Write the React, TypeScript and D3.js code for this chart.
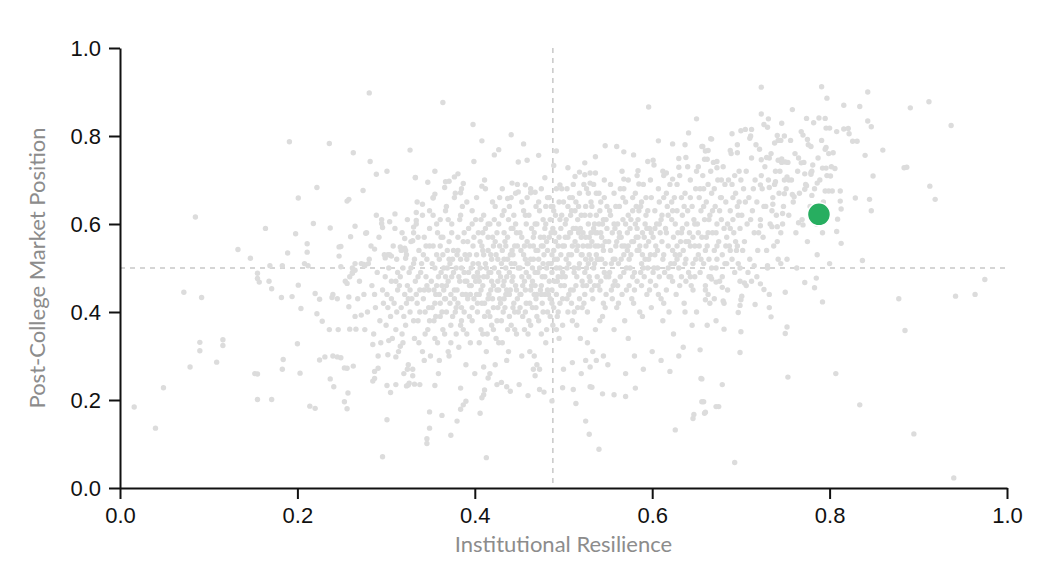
import React, { useEffect, useRef } from 'react';
import * as d3 from 'd3';

type Pt = [number, number];

const xTicks = [0, 0.2, 0.4, 0.6, 0.8, 1.0];
const yTicks = [0, 0.2, 0.4, 0.6, 0.8, 1.0];
const xTitle = 'Institutional Resilience';
const yTitle = 'Post-College Market Position';
const medianX = 0.488;
const medianY = 0.5;
const highlight: Pt = [0.788, 0.622];

// sparse points on the left side of the cloud
const leftSparse: Pt[] = [
  [.016,.184],[.040,.136],[.049,.228],[.072,.445],[.092,.433],[.079,.275],[.090,.331],[.090,.312],[.116,.337],[.116,.324],
  [.109,.286],[.085,.616],[.133,.542],[.147,.522],[.155,.488],[.155,.476],[.157,.468],[.168,.470],[.171,.453],[.152,.260],
  [.155,.259],[.155,.201],[.171,.201],[.184,.292],[.183,.270],[.182,.433],[.194,.435],[.201,.461],[.204,.408],[.200,.328],
  [.203,.261],[.214,.186],[.220,.181],[.220,.442],[.225,.429],[.222,.396],[.228,.379],[.239,.433],[.236,.360],[.246,.360],
  [.225,.291],[.231,.298],[.240,.300],[.245,.298],[.249,.296],[.237,.248],[.241,.230],[.253,.273],[.256,.272],[.263,.277],
  [.257,.216],[.253,.196],[.256,.180],[.258,.434],[.258,.412],[.259,.361],[.266,.361],[.272,.393],[.285,.326],[.285,.243],
  [.287,.249],[.287,.265],[.291,.272],[.296,.071],[.301,.155],[.301,.233],[.305,.217],[.311,.235],[.302,.303],[.311,.298],
  [.316,.322],[.303,.335],[.323,.232],[.325,.234],[.332,.236],
  [.281,.898],[.191,.787],[.236,.783],[.263,.762],[.282,.742],[.289,.713],[.301,.720],[.327,.768],[.333,.706],[.222,.683],
  [.201,.659],[.274,.676],[.256,.652],[.258,.656],[.164,.590],[.218,.601],[.198,.578],[.237,.591],[.265,.595],[.277,.579],
  [.260,.571],[.295,.601],[.296,.592],[.304,.605],[.310,.623],[.334,.626],[.334,.608],[.331,.593],[.330,.562],[.321,.567],
  [.211,.555],[.211,.536],[.189,.534],[.247,.548],[.249,.549],[.247,.527],[.287,.543],[.316,.548],[.321,.545],[.322,.540],
  [.302,.530],[.299,.523],[.306,.527],[.322,.522],[.183,.505],[.208,.510],[.249,.503],[.265,.510],[.275,.508],[.254,.470],
  [.256,.465],[.262,.490],[.265,.495],[.276,.505],[.280,.510],[.169,.505],[.212,.505],[.240,.440],[.245,.430],[.259,.480],
  [.262,.488],
];

// cloud from x 0.25 to 0.35
const band25: Pt[] = [
  [.262,.50],[.270,.47],[.275,.44],[.281,.52],[.284,.46],[.288,.41],[.290,.49],[.293,.38],[.296,.45],[.298,.53],
  [.279,.40],[.286,.35],[.292,.57],[.297,.42],[.268,.43],[.283,.55],[.289,.62],[.276,.36],[.294,.33],[.299,.48],
  [.272,.51],[.287,.44],[.265,.39],[.291,.30],[.278,.58],[.295,.61],
  [.301,.44],[.303,.50],[.305,.39],[.306,.47],[.308,.55],[.309,.42],[.311,.36],[.312,.52],[.313,.45],[.314,.31],
  [.316,.48],[.317,.41],[.318,.58],[.319,.50],[.321,.44],[.322,.37],[.323,.53],[.324,.46],[.325,.28],[.326,.49],
  [.327,.40],[.328,.56],[.329,.43],[.331,.51],[.332,.34],[.333,.47],[.334,.60],[.335,.42],[.336,.38],[.337,.54],
  [.338,.45],[.339,.49],[.341,.31],[.342,.43],[.343,.57],[.344,.40],[.345,.48],[.346,.52],[.347,.36],[.348,.45],
  [.349,.63],[.302,.41],[.307,.34],[.310,.59],[.315,.46],[.320,.39],[.324,.61],[.330,.27],[.334,.44],[.340,.51],
  [.344,.35],[.348,.41],[.304,.53],[.313,.49],[.327,.45],[.336,.48],[.342,.53],[.319,.33],[.331,.58],[.346,.46],
  [.306,.43],[.338,.40],[.323,.42],[.311,.47],[.349,.55],[.300,.37],[.317,.54],[.335,.65],[.343,.29],[.328,.50],
];

// cloud from x 0.35 to 0.45
const band35: Pt[] = [
  [.351,.47],[.352,.41],[.353,.55],[.354,.38],[.355,.50],[.356,.44],[.357,.60],[.358,.33],[.359,.48],[.360,.52],
  [.361,.42],[.362,.57],[.363,.46],[.364,.36],[.365,.50],[.366,.43],[.367,.63],[.368,.40],[.369,.54],[.370,.47],
  [.371,.30],[.372,.51],[.373,.44],[.374,.58],[.375,.39],[.376,.49],[.377,.45],[.378,.67],[.379,.35],[.380,.53],
  [.381,.42],[.382,.48],[.383,.61],[.384,.37],[.385,.50],[.386,.44],[.387,.56],[.388,.40],[.389,.47],[.390,.28],
  [.391,.52],[.392,.43],[.393,.59],[.394,.46],[.395,.33],[.396,.50],[.397,.41],[.398,.55],[.399,.48],[.352,.51],
  [.354,.45],[.356,.39],[.358,.58],[.360,.44],[.362,.49],[.364,.53],[.366,.35],[.368,.46],[.370,.61],[.372,.42],
  [.374,.48],[.376,.54],[.378,.40],[.380,.45],[.382,.32],[.384,.52],[.386,.64],[.388,.49],[.390,.44],[.392,.56],
  [.394,.39],[.396,.46],[.398,.51],[.355,.42],[.361,.55],[.367,.48],[.373,.37],[.379,.50],[.385,.41],[.391,.47],
  [.397,.60],[.359,.26],[.365,.45],[.371,.56],[.377,.43],[.383,.47],[.389,.53],[.395,.44],[.353,.62],[.363,.40],
  [.375,.52],[.387,.36],[.399,.43],[.369,.50],[.381,.57],[.393,.49],[.357,.46],[.385,.68],
  [.401,.47],[.402,.53],[.403,.40],[.404,.58],[.405,.44],[.406,.50],[.407,.36],[.408,.55],[.409,.46],[.410,.62],
  [.411,.42],[.412,.51],[.413,.31],[.414,.48],[.415,.57],[.416,.44],[.417,.39],[.418,.53],[.419,.47],[.420,.65],
  [.421,.41],[.422,.50],[.423,.56],[.424,.34],[.425,.45],[.426,.52],[.427,.60],[.428,.43],[.429,.48],[.430,.38],
  [.431,.54],[.432,.46],[.433,.63],[.434,.41],[.435,.50],[.436,.29],[.437,.57],[.438,.44],[.439,.49],[.440,.53],
  [.441,.37],[.442,.47],[.443,.59],[.444,.42],[.445,.51],[.446,.67],[.447,.45],[.448,.55],[.449,.40],[.401,.61],
  [.403,.49],[.405,.33],[.407,.45],[.409,.54],[.411,.39],[.413,.50],[.415,.43],[.417,.60],[.419,.52],[.421,.46],
  [.423,.28],[.425,.58],[.427,.49],[.429,.42],[.431,.62],[.433,.47],[.435,.55],[.437,.36],[.439,.44],[.441,.51],
  [.443,.48],[.445,.40],[.447,.58],[.449,.50],[.402,.44],[.406,.56],[.410,.48],[.414,.35],[.418,.45],[.422,.61],
  [.426,.41],[.430,.51],[.434,.56],[.438,.31],[.442,.54],[.446,.46],[.404,.51],[.408,.42],[.412,.59],[.416,.49],
  [.420,.43],[.424,.53],[.428,.66],[.432,.40],[.436,.48],[.440,.45],[.444,.62],[.448,.43],[.405,.47],[.415,.54],
  [.425,.38],[.435,.44],[.445,.55],[.411,.70],[.421,.55],[.431,.33],[.441,.59],[.417,.26],[.427,.45],[.437,.52],
  [.447,.35],[.433,.52],[.419,.37],[.443,.41],[.409,.58],[.439,.64],
];

// cloud from x 0.45 to 0.55
const band45: Pt[] = [
  [.451,.50],[.452,.44],[.453,.57],[.454,.39],[.455,.53],[.456,.47],[.457,.62],[.458,.42],[.459,.51],[.460,.35],
  [.461,.48],[.462,.55],[.463,.45],[.464,.59],[.465,.41],[.466,.52],[.467,.30],[.468,.49],[.469,.64],[.470,.44],
  [.471,.54],[.472,.38],[.473,.50],[.474,.57],[.475,.46],[.476,.42],[.477,.61],[.478,.53],[.479,.48],[.480,.33],
  [.481,.56],[.482,.45],[.483,.51],[.484,.66],[.485,.43],[.486,.58],[.487,.49],[.488,.37],[.489,.54],[.490,.47],
  [.491,.62],[.492,.44],[.493,.52],[.494,.40],[.495,.57],[.496,.50],[.497,.46],[.498,.68],[.499,.55],[.451,.41],
  [.453,.48],[.455,.63],[.457,.45],[.459,.56],[.461,.38],[.463,.52],[.465,.47],[.467,.58],[.469,.43],[.471,.49],
  [.473,.27],[.475,.55],[.477,.40],[.479,.59],[.481,.50],[.483,.44],[.485,.61],[.487,.53],[.489,.41],[.491,.56],
  [.493,.47],[.495,.34],[.497,.59],[.499,.43],[.452,.54],[.456,.36],[.460,.51],[.464,.46],[.468,.60],[.472,.52],
  [.476,.48],[.480,.64],[.484,.47],[.488,.59],[.492,.50],[.496,.42],[.454,.46],[.458,.60],[.462,.42],[.466,.55],
  [.470,.39],[.474,.45],[.478,.57],[.482,.40],[.486,.64],[.490,.52],[.494,.48],[.498,.62],[.457,.52],[.467,.44],
  [.477,.51],[.487,.45],[.497,.53],[.462,.31],[.472,.65],[.482,.54],[.492,.36],[.459,.66],[.469,.54],[.479,.44],
  [.489,.63],[.499,.49],[.485,.39],[.475,.35],[.453,.30],[.495,.65],[.465,.50],
  [.501,.55],[.502,.48],[.503,.61],[.504,.43],[.505,.57],[.506,.51],[.507,.66],[.508,.45],[.509,.53],[.510,.38],
  [.511,.59],[.512,.49],[.513,.63],[.514,.46],[.515,.54],[.516,.41],[.517,.58],[.518,.51],[.519,.34],[.520,.62],
  [.521,.47],[.522,.55],[.523,.69],[.524,.44],[.525,.57],[.526,.50],[.527,.40],[.528,.60],[.529,.53],[.530,.47],
  [.531,.65],[.532,.56],[.533,.43],[.534,.59],[.535,.51],[.536,.36],[.537,.62],[.538,.48],[.539,.55],[.540,.67],
  [.541,.45],[.542,.58],[.543,.52],[.544,.39],[.545,.61],[.546,.49],[.547,.56],[.548,.44],[.549,.64],[.501,.46],
  [.503,.52],[.505,.40],[.507,.58],[.509,.63],[.511,.45],[.513,.56],[.515,.37],[.517,.50],[.519,.59],[.521,.53],
  [.523,.42],[.525,.64],[.527,.55],[.529,.48],[.531,.58],[.533,.31],[.535,.60],[.537,.53],[.539,.46],[.541,.63],
  [.543,.57],[.545,.42],[.547,.51],[.549,.59],[.502,.60],[.506,.44],[.510,.55],[.514,.65],[.518,.43],[.522,.58],
  [.526,.46],[.530,.62],[.534,.50],[.538,.58],[.542,.47],[.546,.66],[.504,.50],[.508,.58],[.512,.40],[.516,.61],
  [.520,.53],[.524,.49],[.528,.67],[.532,.45],[.536,.55],[.540,.52],[.544,.60],[.548,.48],[.505,.64],[.515,.48],
  [.525,.52],[.535,.46],[.545,.54],[.511,.69],[.521,.41],[.531,.52],[.541,.38],[.517,.64],[.527,.33],[.537,.67],
  [.547,.41],[.509,.42],[.529,.57],
];

// cloud from x 0.55 to 0.65
const band55: Pt[] = [
  [.551,.56],[.552,.49],[.553,.62],[.554,.45],[.555,.58],[.556,.52],[.557,.67],[.558,.47],[.559,.55],[.560,.41],
  [.561,.60],[.562,.51],[.563,.64],[.564,.48],[.565,.57],[.566,.44],[.567,.61],[.568,.53],[.569,.38],[.570,.65],
  [.571,.50],[.572,.58],[.573,.70],[.574,.46],[.575,.59],[.576,.53],[.577,.43],[.578,.63],[.579,.56],[.580,.49],
  [.581,.67],[.582,.57],[.583,.47],[.584,.61],[.585,.54],[.586,.40],[.587,.64],[.588,.51],[.589,.58],[.590,.69],
  [.591,.48],[.592,.60],[.593,.55],[.594,.44],[.595,.63],[.596,.52],[.597,.59],[.598,.47],[.599,.66],[.551,.48],
  [.553,.54],[.555,.43],[.557,.60],[.559,.64],[.561,.46],[.563,.57],[.565,.52],[.567,.66],[.569,.55],[.571,.45],
  [.573,.62],[.575,.50],[.577,.56],[.579,.42],[.581,.60],[.583,.54],[.585,.63],[.587,.49],[.589,.53],[.591,.57],
  [.593,.66],[.595,.50],[.597,.45],[.599,.58],[.552,.63],[.556,.46],[.560,.56],[.564,.68],[.568,.49],[.572,.54],
  [.576,.61],[.580,.45],[.584,.57],[.588,.65],[.592,.52],[.596,.56],[.554,.51],[.558,.59],[.562,.42],[.566,.55],
  [.570,.60],[.574,.52],[.578,.48],[.582,.64],[.586,.55],[.590,.50],[.594,.59],[.598,.53],[.557,.36],[.573,.34],
  [.589,.39],[.566,.72],[.583,.71],[.599,.41],
  [.601,.57],[.602,.50],[.603,.63],[.604,.46],[.605,.60],[.606,.54],[.607,.68],[.608,.48],[.609,.58],[.610,.43],
  [.611,.62],[.612,.52],[.613,.66],[.614,.49],[.615,.59],[.616,.45],[.617,.64],[.618,.55],[.619,.40],[.620,.69],
  [.621,.51],[.622,.61],[.623,.47],[.624,.57],[.625,.66],[.626,.53],[.627,.44],[.628,.63],[.629,.58],[.630,.50],
  [.631,.71],[.632,.56],[.633,.48],[.634,.62],[.635,.54],[.636,.42],[.637,.67],[.638,.52],[.639,.60],[.640,.73],
  [.641,.49],[.642,.58],[.643,.55],[.644,.46],[.645,.64],[.646,.51],[.647,.61],[.648,.48],[.649,.68],[.601,.49],
  [.604,.55],[.607,.44],[.610,.61],[.613,.53],[.616,.58],[.619,.48],[.622,.65],[.625,.51],[.628,.55],[.631,.46],
  [.634,.59],[.637,.51],[.640,.63],[.643,.48],[.646,.57],[.649,.52],[.603,.59],[.608,.65],[.613,.42],[.618,.62],
  [.623,.54],[.628,.69],[.633,.58],[.638,.47],[.643,.66],[.648,.55],[.606,.50],[.611,.56],[.616,.67],[.621,.48],
  [.626,.60],[.631,.53],[.636,.64],[.641,.56],[.646,.45],[.612,.38],[.624,.35],[.637,.40],
];

// cloud from x 0.65 to 0.80
const band65: Pt[] = [
  [.651,.60],[.652,.53],[.653,.66],[.654,.49],[.655,.63],[.656,.57],[.657,.71],[.658,.51],[.659,.61],[.660,.46],
  [.661,.65],[.662,.55],[.663,.69],[.664,.52],[.665,.62],[.666,.48],[.667,.67],[.668,.58],[.669,.74],[.670,.54],
  [.671,.64],[.672,.50],[.673,.60],[.674,.70],[.675,.56],[.676,.47],[.677,.66],[.678,.61],[.679,.53],[.680,.73],
  [.681,.59],[.682,.51],[.683,.65],[.684,.57],[.685,.45],[.686,.70],[.687,.55],[.688,.63],[.689,.76],[.690,.52],
  [.691,.61],[.692,.58],[.693,.49],[.694,.67],[.695,.54],[.696,.64],[.697,.51],[.698,.72],[.699,.59],[.652,.58],
  [.655,.52],[.658,.64],[.661,.57],[.664,.61],[.667,.50],[.670,.68],[.673,.55],[.676,.63],[.679,.48],[.682,.69],
  [.685,.60],[.688,.54],[.691,.66],[.694,.56],[.697,.62],[.654,.68],[.660,.54],[.666,.72],[.672,.58],[.678,.66],
  [.684,.51],[.690,.69],[.696,.55],[.663,.44],[.681,.42],[.699,.47],
  [.701,.62],[.703,.68],[.704,.56],[.706,.72],[.707,.60],[.709,.66],[.710,.52],[.712,.75],[.713,.63],[.715,.58],
  [.716,.70],[.718,.65],[.719,.54],[.721,.77],[.722,.61],[.724,.68],[.725,.57],[.727,.73],[.728,.64],[.730,.50],
  [.731,.70],[.733,.60],[.734,.76],[.736,.66],[.737,.55],[.739,.72],[.740,.62],[.742,.79],[.743,.67],[.745,.58],
  [.746,.74],[.748,.64],[.749,.70],[.702,.54],[.705,.65],[.708,.49],[.711,.61],[.714,.68],[.717,.78],[.720,.58],
  [.723,.71],[.726,.64],[.729,.54],[.732,.75],[.735,.63],[.738,.69],[.741,.56],[.744,.72],[.747,.60],[.700,.70],
  [.706,.46],[.718,.48],[.730,.82],[.742,.52],[.711,.80],
  [.751,.68],[.753,.74],[.754,.62],[.756,.79],[.757,.70],[.759,.65],[.761,.76],[.762,.58],[.764,.72],[.766,.67],
  [.768,.81],[.769,.61],[.771,.74],[.773,.69],[.775,.56],[.776,.78],[.778,.64],[.780,.72],[.782,.83],[.783,.68],
  [.785,.60],[.787,.75],[.789,.70],[.791,.79],[.793,.65],[.795,.84],[.797,.71],[.799,.76],[.752,.52],[.763,.50],
  [.774,.84],[.786,.53],[.758,.86],[.792,.58],
];

// extra points where the cloud is densest
const coreExtra: Pt[] = [
  [.332,.52],[.336,.57],[.341,.62],[.345,.55],[.349,.59],[.353,.66],[.357,.53],[.361,.61],[.364,.57],[.368,.64],
  [.371,.52],[.374,.60],[.377,.66],[.381,.54],[.384,.62],[.388,.58],[.391,.65],[.394,.53],[.397,.63],[.399,.57],
  [.402,.66],[.404,.48],[.407,.61],[.410,.53],[.412,.68],[.415,.60],[.418,.49],[.420,.57],[.423,.64],[.426,.47],
  [.428,.55],[.431,.68],[.433,.58],[.436,.45],[.438,.61],[.441,.66],[.443,.53],[.446,.60],[.448,.69],[.451,.58],
  [.453,.65],[.456,.55],[.458,.49],[.461,.62],[.463,.68],[.466,.57],[.468,.46],[.470,.60],
  [.473,.63],[.475,.68],[.477,.55],[.480,.60],[.482,.66],[.484,.57],[.486,.51],[.488,.64],[.490,.58],[.492,.68],
  [.494,.55],[.496,.61],[.498,.48],[.500,.65],[.502,.57],[.504,.68],[.506,.53],[.508,.62],[.510,.66],[.512,.50],
  [.514,.59],[.516,.55],[.518,.67],[.520,.57],[.522,.46],[.524,.62],[.526,.68],[.528,.51],[.530,.55],[.532,.64],
  [.534,.69],[.536,.58],[.538,.52],[.540,.60],[.542,.65],[.544,.55],[.546,.70],[.548,.61],
  [.312,.40],[.318,.35],[.325,.43],[.331,.38],[.337,.33],[.343,.45],[.349,.38],[.355,.34],[.361,.39],[.367,.43],
  [.373,.33],[.379,.41],[.385,.38],[.391,.35],[.397,.38],[.403,.42],[.409,.35],[.415,.40],[.421,.36],[.427,.33],
  [.433,.43],[.439,.39],[.445,.36],[.451,.44],[.457,.40],[.463,.37],[.469,.41],[.475,.44],[.481,.36],[.487,.42],
  [.493,.39],[.499,.37],
  [.553,.69],[.558,.52],[.563,.58],[.568,.68],[.573,.55],[.578,.66],[.583,.59],[.588,.46],[.593,.62],[.598,.70],
  [.603,.53],[.608,.60],[.613,.71],[.618,.50],[.623,.63],[.628,.52],[.633,.66],[.638,.56],[.643,.70],[.648,.60],
  [.653,.55],[.658,.68],[.663,.58],[.668,.63],[.673,.52],[.678,.70],[.683,.55],[.688,.59],[.693,.71],[.698,.65],
];

// sparse points above the cloud
const topSparse: Pt[] = [
  [.364,.876],[.398,.826],[.408,.789],[.441,.803],[.455,.782],[.427,.769],[.422,.757],[.399,.742],[.449,.741],[.459,.745],
  [.472,.756],[.492,.766],[.489,.733],[.596,.866],[.650,.839],[.641,.807],[.666,.794],[.607,.789],[.623,.782],[.637,.780],
  [.547,.778],[.560,.776],[.568,.764],[.579,.757],[.536,.753],[.656,.776],[.660,.766],[.659,.747],[.595,.742],[.601,.745],
  [.602,.734],[.630,.749],[.638,.751],[.630,.729],[.524,.739],[.505,.728],[.408,.686],[.355,.720],[.333,.705],[.347,.695],
  [.381,.714],[.377,.707],[.367,.696],[.371,.697],[.366,.683],[.387,.692],[.384,.671],[.355,.668],[.353,.659],[.341,.645],
  [.442,.693],[.457,.689],[.479,.705],[.449,.673],[.463,.671],[.468,.672],[.437,.658],[.496,.689],[.513,.708],[.518,.718],
  [.524,.712],[.530,.716],[.530,.693],[.536,.716],[.568,.702],[.584,.721],[.585,.691],[.612,.720],[.616,.716],[.623,.702],
  [.650,.720],[.652,.730],[.673,.742],[.673,.728],
  [.723,.911],[.791,.912],[.843,.900],[.797,.886],[.816,.870],[.834,.867],[.891,.864],[.912,.878],[.937,.824],[.723,.850],
  [.726,.826],[.731,.839],[.746,.829],[.788,.841],[.843,.834],[.847,.821],[.796,.818],[.800,.818],[.808,.810],[.816,.816],
  [.821,.817],[.822,.805],[.826,.788],[.831,.788],[.860,.768],[.840,.756],[.884,.728],[.887,.729],[.913,.686],[.919,.656],
  [.849,.709],[.829,.659],[.845,.656],[.847,.630],[.813,.634],[.812,.652],[.812,.675],[.809,.611],[.808,.583],[.813,.556],
  [.837,.517],[.800,.510],[.795,.675],[.799,.675],[.803,.675],[.801,.709],[.796,.727],[.802,.730],[.806,.726],[.792,.727],
  [.786,.693],[.772,.714],[.779,.717],[.779,.713],[.781,.734],[.780,.665],[.772,.679],[.774,.687],[.779,.776],[.796,.774],
  [.795,.770],[.804,.762],[.770,.802],[.775,.792],[.765,.750],[.768,.739],[.765,.603],[.770,.598],[.747,.624],[.735,.594],
  [.741,.594],[.722,.596],[.736,.645],[.749,.669],[.758,.667],[.760,.662],[.752,.707],[.754,.700],[.739,.696],[.732,.683],
  [.722,.689],[.742,.745],[.746,.748],[.750,.741],[.723,.746],[.729,.751],[.741,.801],[.749,.800],[.745,.790],[.738,.784],
  [.696,.780],[.696,.762],[.688,.767],[.667,.793],[.657,.776],[.663,.767],[.662,.747],[.700,.812],[.712,.815],[.690,.805],
  [.710,.795],[.705,.815],
];

// sparse points to the right of the cloud
const rightSparse: Pt[] = [
  [.975,.474],[.942,.436],[.964,.440],[.878,.430],[.885,.358],[.807,.260],[.834,.189],[.895,.123],[.940,.023],[.693,.058],
  [.753,.252],[.750,.351],[.752,.366],[.792,.423],[.772,.467],[.783,.455],[.785,.477],[.750,.445],[.732,.440],[.732,.410],
  [.734,.389],[.726,.451],[.716,.417],[.704,.466],[.712,.470],[.722,.464],[.700,.355],[.699,.308],[.697,.399],[.699,.415],
  [.700,.428],[.701,.436],[.681,.361],[.662,.370],[.672,.380],[.679,.235],[.675,.185],[.658,.196],[.660,.172],[.656,.248],
  [.654,.314],[.680,.425],[.670,.430],[.665,.420],[.660,.428],[.667,.475],[.679,.456],[.672,.468],[.730,.505],[.745,.510],
  [.715,.505],[.699,.500],
];

// sparse points below the cloud
const bottomSparse: Pt[] = [
  [.413,.069],[.540,.088],[.529,.122],[.525,.152],[.346,.101],[.346,.112],[.349,.136],[.373,.120],[.349,.173],[.363,.165],
  [.380,.152],[.384,.179],[.387,.189],[.390,.197],[.406,.170],[.408,.205],[.410,.212],[.411,.223],[.384,.227],[.514,.192],
  [.626,.132],[.646,.158],[.647,.167],[.659,.170],[.656,.196],[.672,.185],[.655,.249],[.544,.214],[.557,.212],[.570,.208],
  [.581,.227],[.499,.228],[.511,.224],[.530,.230],[.532,.229],[.473,.224],[.478,.218],[.487,.198],[.440,.220],[.450,.235],
  [.460,.210],[.425,.235],[.430,.240],[.436,.230],[.326,.238],[.338,.235],[.355,.233],[.320,.260],[.324,.270],[.330,.255],
  [.350,.300],[.360,.290],[.370,.310],[.400,.260],[.410,.275],[.415,.250],[.466,.270],[.468,.255],[.470,.280],[.500,.270],
  [.510,.285],[.520,.260],[.525,.290],[.530,.275],[.537,.290],[.545,.300],[.550,.280],[.580,.300],[.590,.270],[.600,.310],
  [.610,.290],[.620,.265],[.630,.300],[.570,.260],[.635,.320],[.645,.370],[.650,.400],[.660,.450],[.664,.480],
];

const allPoints: Pt[] = [
  ...leftSparse, ...band25, ...band35, ...band45, ...band55, ...band65, ...coreExtra,
  ...topSparse, ...rightSparse, ...bottomSparse,
];

const W = 1044;
const H = 572;
const margin = { top: 40, right: 45, bottom: 92, left: 112 };

const App: React.FC = () => {
  const svgRef = useRef<SVGSVGElement | null>(null);

  useEffect(() => {
    if (!svgRef.current) return;
    const svg = d3.select(svgRef.current);
    svg.selectAll('*').remove();

    const x = d3.scaleLinear().domain([0, 1]).range([margin.left, W - margin.right]);
    const y = d3.scaleLinear().domain([0, 1]).range([H - margin.bottom, margin.top]);

    // median guide lines
    const guides = svg.append('g')
      .attr('stroke', '#c8c8c8')
      .attr('stroke-width', 1.5)
      .attr('stroke-dasharray', '5,5');
    guides.append('line')
      .attr('x1', x(medianX)).attr('x2', x(medianX))
      .attr('y1', y(1)).attr('y2', y(0));
    guides.append('line')
      .attr('x1', x(0)).attr('x2', x(1))
      .attr('y1', y(medianY)).attr('y2', y(medianY));

    // all colleges
    svg.append('g')
      .selectAll('circle')
      .data(allPoints)
      .join('circle')
      .attr('cx', d => x(d[0]))
      .attr('cy', d => y(d[1]))
      .attr('r', 2.7)
      .attr('fill', '#dcdcdc');

    // highlighted college
    svg.append('circle')
      .attr('cx', x(highlight[0]))
      .attr('cy', y(highlight[1]))
      .attr('r', 11.5)
      .attr('fill', '#27ae60')
      .attr('stroke', '#fff')
      .attr('stroke-width', 1.5);

    const fmt = d3.format('.1f');
    const xAxis = svg.append('g')
      .attr('transform', `translate(0,${y(0)})`)
      .call(d3.axisBottom(x).tickValues(xTicks).tickFormat(d => fmt(d as number)).tickSize(11).tickPadding(8).tickSizeOuter(0));
    const yAxis = svg.append('g')
      .attr('transform', `translate(${x(0)},0)`)
      .call(d3.axisLeft(y).tickValues(yTicks).tickFormat(d => fmt(d as number)).tickSize(11).tickPadding(8).tickSizeOuter(0));

    [xAxis, yAxis].forEach(g => {
      g.selectAll('path, line').attr('stroke', '#111').attr('stroke-width', 2);
      g.selectAll('text')
        .attr('fill', '#111')
        .style('font-family', '"Liberation Sans", Arial, sans-serif')
        .style('font-size', '22px');
    });

    svg.append('text')
      .attr('x', (x(0) + x(1)) / 2)
      .attr('y', 544)
      .attr('text-anchor', 'middle')
      .attr('fill', '#8c8c8c')
      .style('font-family', 'Lato, sans-serif')
      .style('font-size', '22px')
      .text(xTitle);

    svg.append('text')
      .attr('transform', 'rotate(-90)')
      .attr('x', -(y(0) + y(1)) / 2)
      .attr('y', 37)
      .attr('text-anchor', 'middle')
      .attr('fill', '#8c8c8c')
      .style('font-family', 'Lato, sans-serif')
      .style('font-size', '22px')
      .text(yTitle);
  }, []);

  return <svg ref={svgRef} width={W} height={H} style={{ display: 'block' }}></svg>;
};

export default App;
